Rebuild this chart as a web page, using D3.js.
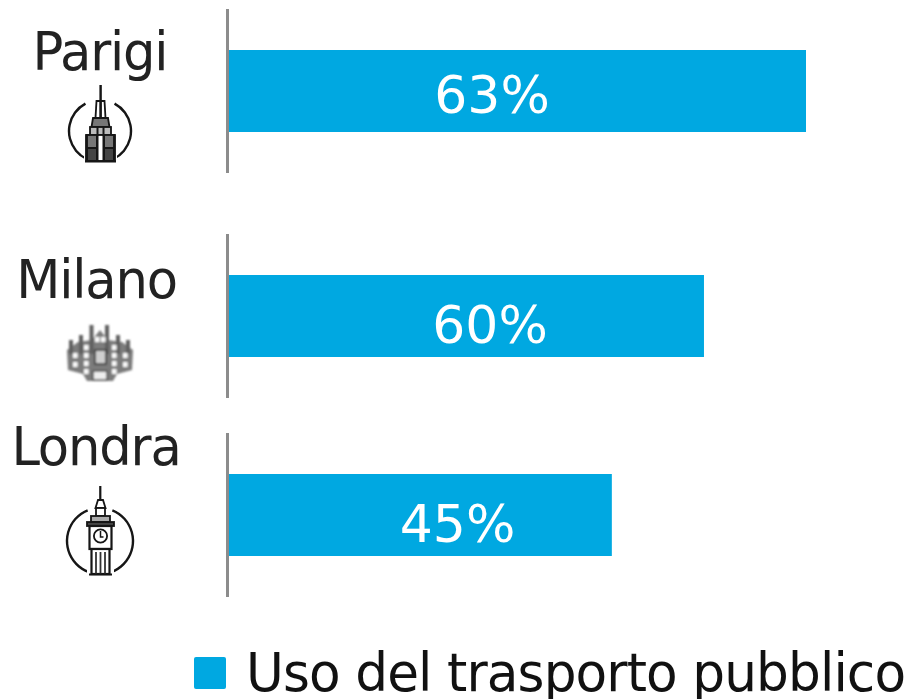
<!DOCTYPE html>
<html><head><meta charset="utf-8">
<script src="https://d3js.org/d3.v7.min.js"></script>
<style>html,body{margin:0;padding:0;background:#fff}svg{display:block}text{font-family:"DejaVu Sans",sans-serif}</style>
</head><body><svg id="c" width="910" height="699"></svg>
<script>
const cities = ["Parigi","Milano","Londra"];
const barLengths = [63, 51.86, 41.8];
const valueLabels = ["63%","60%","45%"];
const legendLabel = "Uso del trasporto pubblico";

const barColor = "#00a8e1";
const svg = d3.select("#c");
const defs = svg.append("defs");
defs.append("filter").attr("id","soft").append("feGaussianBlur").attr("stdDeviation",0.45);
defs.append("filter").attr("id","softer").append("feGaussianBlur").attr("stdDeviation",0.95);

const x = d3.scaleLinear().domain([0,63]).range([229,806]);
const rowCentres = [91,316,515];
const y = d3.scaleOrdinal().domain(cities).range(rowCentres);
const barH = 82, axisTop = -82, axisBottom = 82;
const labelLayout = [{x:492,b:113},{x:490,b:343},{x:457.5,b:542}];
const nameLayout = [{x:100,b:70},{x:96.5,b:298},{x:96,b:465}];

function squeezed(sel,px,py,size,sx,ls,anchor){
  sel.attr("transform",(d,i)=>`translate(${px(d,i)},${py(d,i)}) scale(${sx},1)`)
     .attr("font-size",size).attr("letter-spacing",ls).attr("text-anchor",anchor);
}
const rows = svg.selectAll("g.row").data(cities).join("g").attr("class","row");
rows.append("line").attr("x1",227.5).attr("x2",227.5)
  .attr("y1",d=>y(d)+axisTop).attr("y2",d=>y(d)+axisBottom)
  .attr("stroke","#8c8c8c").attr("stroke-width",3);
rows.append("rect").attr("x",x(0))
  .attr("y",d=>y(d)-barH/2).attr("height",barH)
  .attr("width",(d,i)=>x(barLengths[i])-x(0)).attr("fill",barColor);
rows.append("text").text((d,i)=>valueLabels[i]).attr("fill","#fff")
  .call(squeezed,(d,i)=>labelLayout[i].x,(d,i)=>labelLayout[i].b,52,1,0,"middle");
rows.append("text").text(d=>d).attr("fill","#222")
  .call(squeezed,(d,i)=>nameLayout[i].x,(d,i)=>nameLayout[i].b,52.5,0.975,-1.2,"middle");

// Icons
const ink = "#141414";
function ring(g,cx,cy,r,gapDeg){
  const a = d3.arc().innerRadius(r-1.2).outerRadius(r+1.2)
    .startAngle(gapDeg*Math.PI/180).endAngle((360-gapDeg)*Math.PI/180);
  g.append("path").attr("d",a()).attr("transform",`translate(${cx},${cy})`).attr("fill",ink);
}
function box(g,x0,y0,w,h,o={}){
  g.append("rect").attr("x",x0).attr("y",y0).attr("width",w).attr("height",h)
   .attr("fill",o.fill||"none").attr("stroke",o.stroke===undefined?ink:o.stroke)
   .attr("stroke-width",o.sw===undefined?1.8:o.sw);
}
// Tower (Parigi)
(function(){
  const g = svg.append("g").attr("filter","url(#soft)");
  ring(g,100,131,31,28);
  g.append("rect").attr("x",84).attr("y",120).attr("width",33).attr("height",45).attr("fill","#fff");
  g.append("rect").attr("x",99.4).attr("y",85).attr("width",2.4).attr("height",16).attr("fill",ink);
  g.append("path").attr("d","M95.5 118 L96.5 101 L104.5 101 L105.5 118 Z").attr("fill","#fff").attr("stroke",ink).attr("stroke-width",1.8);
  g.append("rect").attr("x",99.3).attr("y",101).attr("width",2.6).attr("height",18).attr("fill",ink);
  g.append("path").attr("d","M91.5 127 L93 118 L108 118 L109.5 127 Z").attr("fill","#777").attr("stroke",ink).attr("stroke-width",1.8);
  box(g,90,127,21,8,{fill:"#bbb"});
  box(g,86,135,29,26,{fill:"#fff"});
  box(g,87,135,10,13,{fill:"#777"});
  box(g,104,135,10,13,{fill:"#777"});
  box(g,87,148,10,13,{fill:"#444"});
  box(g,104,148,10,13,{fill:"#444"});
  g.append("rect").attr("x",96.5).attr("y",127).attr("width",2).attr("height",35).attr("fill",ink);
  g.append("rect").attr("x",102.5).attr("y",127).attr("width",2).attr("height",35).attr("fill",ink);
  g.append("rect").attr("x",85).attr("y",160.5).attr("width",31).attr("height",2).attr("fill",ink);
})();
// Cathedral (Milano)
(function(){
  const g = svg.append("g").attr("filter","url(#softer)");
  g.append("path").attr("d","M67 350 L78 342 L92 340 L100 330 L108 340 L122 342 L133 350 L132 370 L117 374 L113 381 L87 381 L83 374 L68 370 Z").attr("fill","#7c7c7c");
  [[71,340],[81,335],[91.5,325],[107,325],[118,335],[128,340]].forEach(([px,top])=>{
    g.append("rect").attr("x",px-2).attr("y",top).attr("width",4).attr("height",354-top).attr("fill","#5e5e5e");
  });
  [[73,353],[73,362],[84,345],[84,353],[84,361],[84,369],[95,337],[101,337],[112,345],[112,353],[112,361],[112,369],[123,353],[123,362]].forEach(([px,py])=>{
    g.append("rect").attr("x",px).attr("y",py).attr("width",4.6).attr("height",5).attr("fill","#fafafa");
  });
  box(g,95,350,11,14,{sw:1.8,stroke:"#3c3c3c",fill:"#cfcfcf"});
  box(g,93,371,14,9,{sw:1.6,stroke:"#555",fill:"#eee"});
})();
// Clock tower (Londra)
(function(){
  const g = svg.append("g").attr("filter","url(#soft)");
  ring(g,100,541,33,22);
  g.append("rect").attr("x",87).attr("y",525).attr("width",27).attr("height",53).attr("fill","#fff");
  g.append("rect").attr("x",99.2).attr("y",486).attr("width",2.2).attr("height",15).attr("fill",ink);
  g.append("path").attr("d","M95.5 508 L98 500 L103 500 L105.5 508 Z").attr("fill","#fff").attr("stroke",ink).attr("stroke-width",1.8);
  box(g,96,508,9,8,{fill:"#fff"});
  box(g,91,516,19,6,{fill:"#aaa"});
  box(g,87,522,27,4,{fill:"#444"});
  box(g,89.5,526,22,23,{fill:"#fff",sw:2.2});
  g.append("circle").attr("cx",100.5).attr("cy",536).attr("r",6.6).attr("fill","none").attr("stroke",ink).attr("stroke-width",1.8);
  g.append("path").attr("d","M100.5 531 L100.5 537 L103.5 537").attr("fill","none").attr("stroke",ink).attr("stroke-width",1.5);
  box(g,91.5,549,18,25,{fill:"#fff",sw:2.2});
  [96,100.5,105].forEach(px=>g.append("rect").attr("x",px-.9).attr("y",552).attr("width",1.8).attr("height",22).attr("fill","#333"));
  g.append("rect").attr("x",89).attr("y",573.5).attr("width",23).attr("height",2).attr("fill",ink);
})();

// Legend
svg.append("rect").attr("x",194).attr("y",657).attr("width",32).attr("height",32).attr("rx",2).attr("fill",barColor);
svg.append("text").text(legendLabel).attr("fill","#111")
  .attr("transform","translate(246,691) scale(0.975,1)").attr("font-size",53).attr("letter-spacing",-0.9);
</script></body></html>
